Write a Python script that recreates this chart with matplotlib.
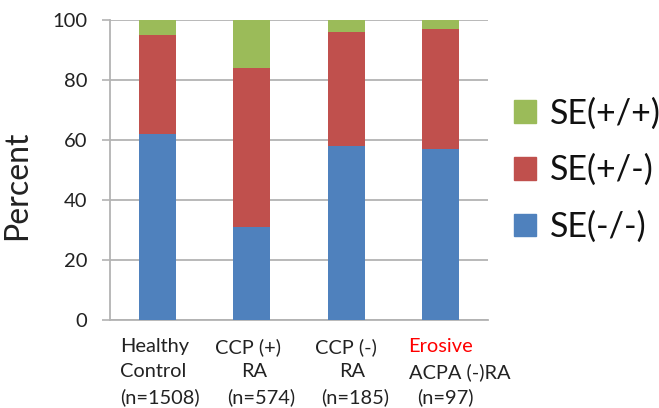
import matplotlib
matplotlib.use("Agg")
import matplotlib.pyplot as plt
from matplotlib.patches import Patch
import numpy as np

plt.rcParams["font.family"] = ["Lato", "DejaVu Sans"]

# 数据
groups = ["Healthy Control", "CCP (+) RA", "CCP (-) RA", "Erosive ACPA (-)RA"]
se_neg_neg = [62, 31, 58, 57]
se_pos_neg = [33, 53, 38, 40]
se_pos_pos = [5, 16, 4, 3]
y_ticks = [0, 20, 40, 60, 80, 100]

label_lines = [
    ["Healthy", "Control", "(n=1508)"],
    ["CCP (+)", "RA", "(n=574)"],
    ["CCP (-)", "RA", "(n=185)"],
    ["Erosive", "ACPA (-)RA", "(n=97)"],
]
label_colors = [
    ["#222222"] * 3,
    ["#222222"] * 3,
    ["#222222"] * 3,
    ["red", "#222222", "#222222"],
]

blue = "#4F81BD"
red = "#C0504D"
green = "#9BBB59"
grid_c = "#B3B3B3"

fig = plt.figure(figsize=(6.59, 4.08), dpi=100)
ax = fig.add_axes([0.1669, 0.2157, 0.5736, 0.7353])

x = np.arange(len(groups))
w = 0.39
b1 = np.array(se_neg_neg)
b2 = b1 + np.array(se_pos_neg)
ax.bar(x, se_neg_neg, w, color=blue, zorder=3)
ax.bar(x, se_pos_neg, w, bottom=b1, color=red, zorder=3)
ax.bar(x, se_pos_pos, w, bottom=b2, color=green, zorder=3)

ax.set_xlim(-0.5, 3.5)
ax.set_ylim(0, 100)
ax.set_yticks(y_ticks)
ax.tick_params(axis="y", labelsize=14.5, length=5.8, width=1.2, color=grid_c,
               pad=10.5, labelcolor="#222222")
ax.set_xticks([])
ax.yaxis.grid(True, color=grid_c, linewidth=1.3, zorder=0)
for s in ["top", "right"]:
    ax.spines[s].set_visible(False)
for s in ["left", "bottom"]:
    ax.spines[s].set_color(grid_c)
    ax.spines[s].set_linewidth(1.3)

ax.set_ylabel("Percent", fontsize=23, color="#222222")
ax.yaxis.set_label_coords(-0.206, 0.45)

# 分类标签（每行单独放，接近原图的排布）
tr = ax.get_xaxis_transform()
line_dx = [
    [None, None, None],
    [-0.037, 0.026, 0.10],
    [0.0, 0.058, 0.095],
    [0.0, 0.20, 0.053],
]
for i, lines in enumerate(label_lines):
    for j, txt in enumerate(lines):
        y = -0.06 - j * 0.0833
        if line_dx[i][j] is None:
            ax.text(i - 0.397, y, txt, transform=tr, ha="left", va="top",
                    fontsize=14.4, color=label_colors[i][j])
        else:
            ax.text(i + line_dx[i][j], y, txt, transform=tr, ha="center", va="top",
                    fontsize=14.4, color=label_colors[i][j])

handles = [Patch(color=green, label="SE(+/+)"),
           Patch(color=red, label="SE(+/-)"),
           Patch(color=blue, label="SE(-/-)")]
fig.legend(handles=handles, loc="center left", bbox_to_anchor=(0.780, 0.583),
           frameon=False, fontsize=24.5, handlelength=0.64, handleheight=0.64,
           handletextpad=0.4, labelspacing=0.72, borderpad=0, borderaxespad=0,
           labelcolor="#111111")

plt.savefig("out.png", dpi=100)
